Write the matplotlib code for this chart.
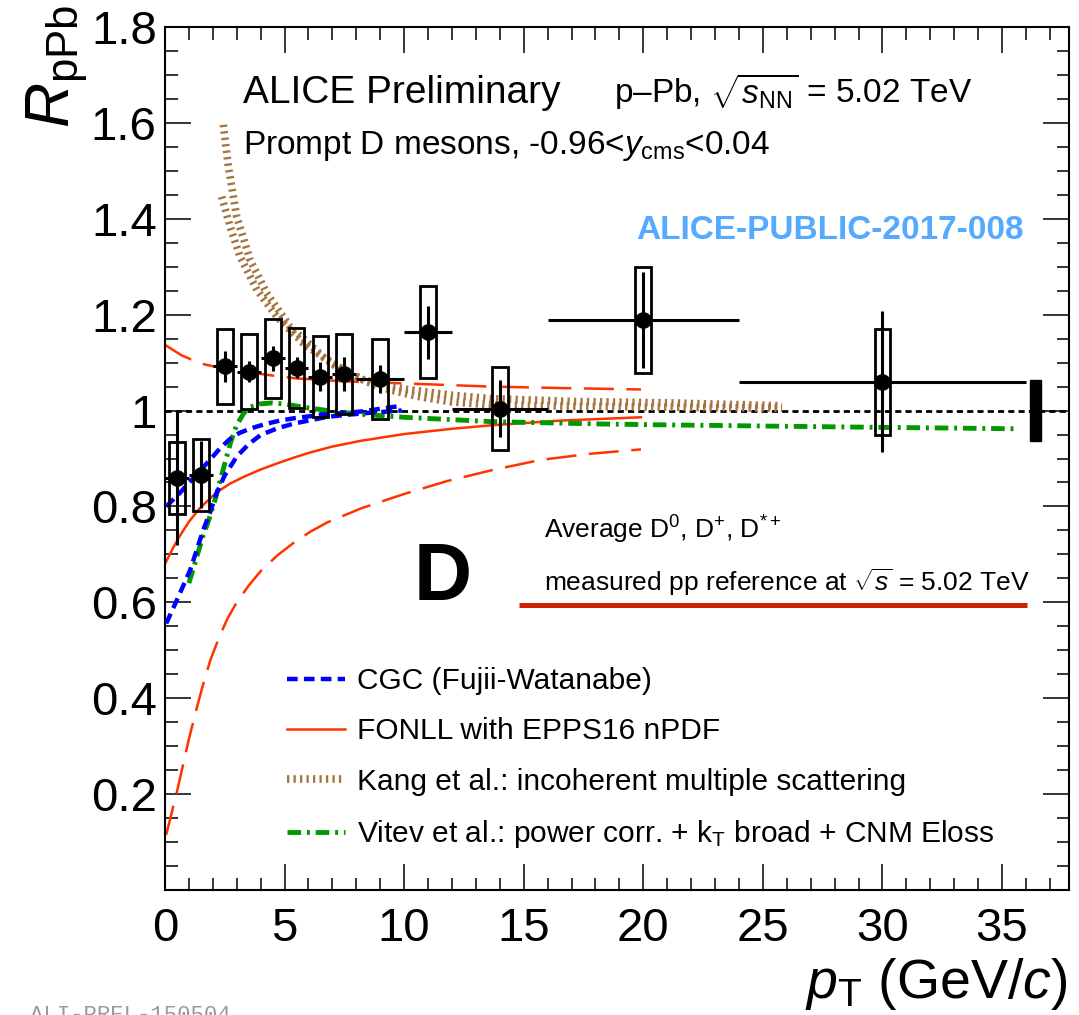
import numpy as np
import matplotlib
matplotlib.use('Agg')
import matplotlib.pyplot as plt
from matplotlib.patches import Rectangle

plt.rcParams['font.family'] = ['Liberation Sans', 'DejaVu Sans']
plt.rcParams['mathtext.fontset'] = 'custom'
plt.rcParams['mathtext.rm'] = 'Liberation Sans'
plt.rcParams['mathtext.it'] = 'Liberation Sans:italic'
plt.rcParams['mathtext.bf'] = 'Liberation Sans:bold'

# ---- measured D-meson R_pPb ----
pt = np.array([0.5, 1.5, 2.5, 3.5, 4.5, 5.5, 6.5, 7.5, 9, 11, 14, 20, 30])
pt_lo = np.array([0, 1, 2, 3, 4, 5, 6, 7, 8, 10, 12, 16, 24])
pt_hi = np.array([1, 2, 3, 4, 5, 6, 7, 8, 10, 12, 16, 24, 36])
rppb = np.array([0.859, 0.866, 1.092, 1.081, 1.109, 1.089, 1.071, 1.076, 1.066, 1.163, 1.004, 1.189, 1.060])
stat = np.array([0.14, 0.07, 0.032, 0.022, 0.026, 0.022, 0.03, 0.035, 0.03, 0.055, 0.06, 0.10, 0.147])
syst = np.array([0.075, 0.075, 0.078, 0.078, 0.083, 0.083, 0.084, 0.084, 0.084, 0.096, 0.087, 0.11, 0.11])
norm_pt = 36.4
norm_unc = 0.063

# ---- models ----
cgc_up_x = [0.05, 0.6, 1.2, 1.75, 2.3, 2.7, 3.1, 3.6, 4.2, 4.8, 5.4, 6.5, 8.2, 9.9]
cgc_up_y = [0.80, 0.827, 0.86, 0.89, 0.921, 0.94, 0.953, 0.963, 0.972, 0.979, 0.984, 0.991, 0.998, 1.01]
cgc_lo_x = [0.05, 0.5, 1.05, 1.6, 1.9, 2.15, 2.5, 3.0, 3.5, 4.0, 4.7, 5.4, 6.8, 8.2, 9.9]
cgc_lo_y = [0.556, 0.605, 0.667, 0.751, 0.79, 0.827, 0.865, 0.904, 0.93, 0.949, 0.963, 0.973, 0.987, 0.994, 1.0]

fonll_x = [0, 0.3, 0.6, 1.0, 1.45, 2.15, 2.7, 3.3, 4.0, 4.7, 5.4, 6.1, 7.0, 8.2, 10, 12, 13.6, 16.5, 19.9]
fonll_y = [0.68, 0.71, 0.737, 0.768, 0.796, 0.829, 0.847, 0.862, 0.877, 0.89, 0.902, 0.913, 0.925,
           0.937, 0.951, 0.962, 0.969, 0.979, 0.986]
fonll_up_x = [0, 0.7, 1.5, 2.5, 3.6, 4.5, 5.5, 7.5, 9.8, 13.6, 16.5, 19.9]
fonll_up_y = [1.137, 1.115, 1.098, 1.087, 1.079, 1.073, 1.067, 1.061, 1.057, 1.05, 1.047, 1.044]
fonll_lo_x = [0.05, 0.3, 0.5, 0.75, 1.0, 1.33, 1.6, 1.9, 2.25, 2.6, 3.0, 3.5, 4.0, 4.7, 5.4, 6.1,
              6.8, 8.2, 10, 11.8, 13.7, 15.7, 17.8, 19.9]
fonll_lo_y = [0.115, 0.165, 0.205, 0.26, 0.315, 0.38, 0.43, 0.48, 0.525, 0.565, 0.6, 0.635, 0.665,
              0.698, 0.725, 0.748, 0.767, 0.796, 0.826, 0.853, 0.876, 0.897, 0.91, 0.919]

kang_up_x = [2.44, 2.65, 3.0, 3.56, 4.25, 5.23, 6.62, 7.4, 8.3, 10, 12, 13.6, 17, 21.1, 25.8]
kang_up_y = [1.596, 1.509, 1.404, 1.314, 1.245, 1.175, 1.112, 1.087, 1.064, 1.045, 1.032, 1.025, 1.019, 1.016, 1.01]
kang_lo_x = [2.37, 2.72, 3.14, 3.84, 4.67, 5.79, 7.18, 8.86, 10.5, 12, 13.6, 17, 21.1, 25.8]
kang_lo_y = [1.446, 1.384, 1.321, 1.252, 1.196, 1.14, 1.091, 1.05, 1.03, 1.018, 1.012, 1.009, 1.007, 1.005]

vitev_x = [1.0, 1.3, 1.6, 1.85, 2.1, 2.45, 2.75, 3.0, 3.3, 3.55, 4.0, 4.5, 5.1, 5.65, 6.8, 8, 10,
           13.6, 18.2, 21.1, 28, 35.6]
vitev_y = [0.64, 0.69, 0.74, 0.775, 0.815, 0.88, 0.935, 0.97, 0.995, 1.007, 1.014, 1.016, 1.013,
           1.008, 1.0, 0.993, 0.986, 0.977, 0.972, 0.97, 0.966, 0.962]

yticks = [0.2, 0.4, 0.6, 0.8, 1.0, 1.2, 1.4, 1.6, 1.8]
ytick_labels = ['0.2', '0.4', '0.6', '0.8', '1', '1.2', '1.4', '1.6', '1.8']
xticks = [0, 5, 10, 15, 20, 25, 30, 35]

W, H = 1079, 1015
def fx(px):
    return px / W
def fy(py):
    return 1 - py / H

fig = plt.figure(figsize=(W / 100, H / 100), dpi=100)
ax = fig.add_axes([fx(165), fy(890), fx(1069) - fx(165), fy(27) - fy(890)])
ax.set_xlim(0, 37.8)
ax.set_ylim(0, 1.8)

c_fonll = '#ff3300'
c_cgc = '#0000ff'
c_kang = '#a67440'
c_vitev = '#009900'

ax.axhline(1.0, color='k', lw=2, ls=(0, (2.2, 1.5)), zorder=1)

ax.plot(fonll_up_x, fonll_up_y, color=c_fonll, lw=1.8, ls=(0, (12, 5)), zorder=2)
ax.plot(fonll_lo_x, fonll_lo_y, color=c_fonll, lw=1.8, ls=(0, (12, 5)), zorder=2)
l_fonll, = ax.plot(fonll_x, fonll_y, color=c_fonll, lw=1.8, zorder=2)

l_kang, = ax.plot(kang_up_x, kang_up_y, color=c_kang, lw=5.5, ls=(0, (0.3, 0.55)), zorder=3)
ax.plot(kang_lo_x, kang_lo_y, color=c_kang, lw=5.5, ls=(0, (0.3, 0.55)), zorder=3)

l_vitev, = ax.plot(vitev_x, vitev_y, color=c_vitev, lw=3.5, ls=(0, (2.8, 1.2, 0.6, 1.2)), zorder=3)

l_cgc, = ax.plot(cgc_up_x, cgc_up_y, color=c_cgc, lw=3.2, ls=(0, (2.4, 1.4)), zorder=3)
ax.plot(cgc_lo_x, cgc_lo_y, color=c_cgc, lw=3.2, ls=(0, (2.4, 1.4)), zorder=3)

# systematic boxes
box_w = 0.66
for x, y, s in zip(pt, rppb, syst):
    ax.add_patch(Rectangle((x - box_w / 2, y - s), box_w, 2 * s, fill=False,
                           edgecolor='k', lw=2.0, zorder=4))

ax.errorbar(pt, rppb, xerr=[pt - pt_lo, pt_hi - pt], yerr=stat, fmt='o', color='k',
            ms=11, elinewidth=2.2, capsize=0, zorder=5)

ax.add_patch(Rectangle((norm_pt - 0.25, 1 - norm_unc), 0.5, 2 * norm_unc,
                       facecolor='k', edgecolor='k', zorder=5))

# axes styling
ax.set_xticks(xticks)
ax.set_xticks(np.arange(0, 38, 1), minor=True)
ax.set_yticks(yticks)
ax.set_yticklabels(ytick_labels)
ax.set_yticks(np.arange(0, 1.81, 0.05), minor=True)
ax.tick_params(which='both', direction='in', top=True, right=True, width=1.1,
               labelsize=34)
ax.tick_params(which='major', length=19)
ax.tick_params(which='minor', length=9)
ax.tick_params(axis='x', pad=12)
ax.tick_params(axis='y', pad=6)
for sp in ax.spines.values():
    sp.set_linewidth(1.5)

fig.text(fx(90), fy(5), r'$R_{\rm pPb}$', rotation=90, ha='right', va='top', fontsize=45)
fig.text(fx(1068), fy(998), r'$p_{\rm T}$ (GeV/$c$)', ha='right', va='baseline', fontsize=40)

fig.text(fx(243), fy(103), 'ALICE Preliminary', fontsize=28, va='baseline')
fig.text(fx(614), fy(103), r'p–Pb, $\sqrt{s_{\rm NN}}$ = 5.02 TeV', fontsize=24, va='baseline')
fig.text(fx(243), fy(154), r'Prompt D mesons, -0.96<$y_{\rm cms}$<0.04', fontsize=24, va='baseline')
fig.text(fx(636), fy(239), 'ALICE-PUBLIC-2017-008', fontsize=24, fontweight='bold',
         color='#55aaff', va='baseline')
fig.text(fx(443), fy(600), 'D', fontsize=58, fontweight='bold', ha='center', va='baseline')
fig.text(fx(544), fy(539), r'Average D$^{0}$, D$^{+}$, D$^{*+}$', fontsize=19, va='baseline')
fig.text(fx(544), fy(591), r'measured pp reference at $\sqrt{s}$ = 5.02 TeV', fontsize=19, va='baseline')
ax.plot([(519 - 165) / 904, (1027 - 165) / 904], [(890 - 605) / 863] * 2,
        transform=ax.transAxes, color='#cc2200', lw=3.6, solid_capstyle='butt')
fig.text(fx(30), fy(1005), 'ALI-PREL-150504', fontsize=16, color='#999999',
         family='Liberation Mono', va='top')

ax.legend([l_cgc, l_fonll, l_kang, l_vitev],
          ['CGC (Fujii-Watanabe)', 'FONLL with EPPS16 nPDF',
           'Kang et al.: incoherent multiple scattering',
           r'Vitev et al.: power corr. + k$_{\rm T}$ broad + CNM Eloss'],
          loc='upper left', bbox_to_anchor=((287 - 165) / 904, (890 - 667) / 863),
          frameon=False, fontsize=21.5, handlelength=1.95, handletextpad=0.4,
          labelspacing=0.75, borderpad=0, borderaxespad=0)

fig.savefig('out.png', dpi=100)
